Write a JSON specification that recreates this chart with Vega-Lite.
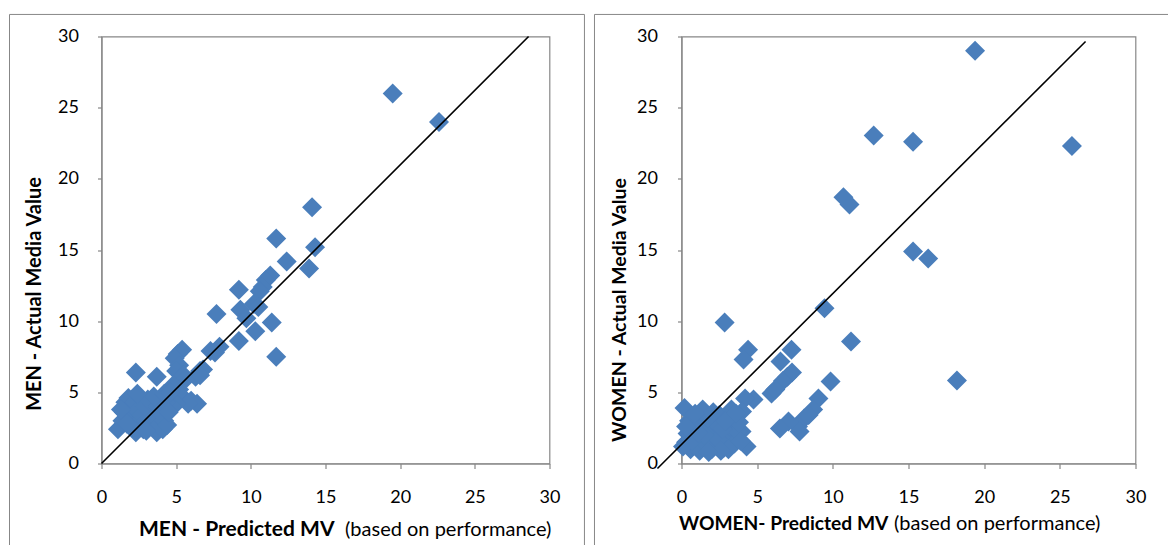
{
  "$schema": "https://vega.github.io/schema/vega-lite/v6.json",
  "padding": {"left": 7.5, "top": 12.5, "right": 0, "bottom": 0},
  "background": "white",
  "datasets": {
    "men": [
      {"pred": 19.5, "actual": 26.0}, {"pred": 22.6, "actual": 24.0}, {"pred": 14.1, "actual": 18.0},
      {"pred": 11.7, "actual": 15.8}, {"pred": 14.3, "actual": 15.2}, {"pred": 12.4, "actual": 14.2},
      {"pred": 13.9, "actual": 13.7}, {"pred": 11.3, "actual": 13.2}, {"pred": 11.0, "actual": 12.9},
      {"pred": 9.2, "actual": 12.2}, {"pred": 10.8, "actual": 12.4}, {"pred": 10.6, "actual": 12.1},
      {"pred": 10.2, "actual": 11.2}, {"pred": 10.5, "actual": 11.0}, {"pred": 9.3, "actual": 10.8},
      {"pred": 9.7, "actual": 10.2}, {"pred": 7.7, "actual": 10.5}, {"pred": 11.4, "actual": 9.9},
      {"pred": 10.3, "actual": 9.3}, {"pred": 9.2, "actual": 8.6}, {"pred": 11.7, "actual": 7.5},
      {"pred": 7.9, "actual": 8.2}, {"pred": 7.3, "actual": 7.9}, {"pred": 7.6, "actual": 7.8},
      {"pred": 5.1, "actual": 7.7}, {"pred": 5.4, "actual": 8.0}, {"pred": 4.9, "actual": 7.4},
      {"pred": 5.2, "actual": 6.9}, {"pred": 5.0, "actual": 6.5}, {"pred": 5.5, "actual": 6.2},
      {"pred": 6.6, "actual": 6.5}, {"pred": 6.8, "actual": 6.6}, {"pred": 6.3, "actual": 6.1},
      {"pred": 6.6, "actual": 6.2}, {"pred": 3.7, "actual": 6.1}, {"pred": 2.3, "actual": 6.4},
      {"pred": 5.6, "actual": 5.9}, {"pred": 4.8, "actual": 5.5}, {"pred": 5.2, "actual": 5.2},
      {"pred": 4.4, "actual": 4.8}, {"pred": 5.5, "actual": 4.6}, {"pred": 6.0, "actual": 4.4},
      {"pred": 6.4, "actual": 4.2}, {"pred": 5.8, "actual": 4.2}, {"pred": 5.0, "actual": 4.2},
      {"pred": 4.7, "actual": 4.0}, {"pred": 1.1, "actual": 2.4}, {"pred": 1.4, "actual": 3.0},
      {"pred": 1.5, "actual": 3.6}, {"pred": 1.6, "actual": 4.3}, {"pred": 1.8, "actual": 4.6},
      {"pred": 1.9, "actual": 3.9}, {"pred": 2.0, "actual": 3.2}, {"pred": 2.1, "actual": 2.6},
      {"pred": 2.2, "actual": 4.3}, {"pred": 2.4, "actual": 3.7}, {"pred": 2.5, "actual": 2.9},
      {"pred": 2.6, "actual": 4.6}, {"pred": 2.7, "actual": 3.4}, {"pred": 2.8, "actual": 2.4},
      {"pred": 2.9, "actual": 4.0}, {"pred": 3.0, "actual": 3.0}, {"pred": 3.1, "actual": 4.5},
      {"pred": 3.2, "actual": 2.6}, {"pred": 3.3, "actual": 3.6}, {"pred": 3.4, "actual": 4.2},
      {"pred": 3.5, "actual": 2.9}, {"pred": 3.6, "actual": 3.3}, {"pred": 3.7, "actual": 2.2},
      {"pred": 3.8, "actual": 4.0}, {"pred": 3.9, "actual": 2.7}, {"pred": 4.0, "actual": 3.5},
      {"pred": 4.1, "actual": 2.4}, {"pred": 4.2, "actual": 3.0}, {"pred": 4.3, "actual": 4.3},
      {"pred": 4.4, "actual": 2.7}, {"pred": 4.5, "actual": 3.6}, {"pred": 1.3, "actual": 3.8},
      {"pred": 2.3, "actual": 2.2}, {"pred": 3.0, "actual": 2.3}, {"pred": 1.7, "actual": 2.8},
      {"pred": 2.4, "actual": 4.9}, {"pred": 3.5, "actual": 4.7}, {"pred": 4.2, "actual": 4.9},
      {"pred": 4.6, "actual": 5.0}
    ],
    "women": [
      {"pred": 19.4, "actual": 29.0}, {"pred": 12.7, "actual": 23.05}, {"pred": 15.3, "actual": 22.6},
      {"pred": 25.8, "actual": 22.3}, {"pred": 10.7, "actual": 18.7}, {"pred": 11.1, "actual": 18.2},
      {"pred": 15.3, "actual": 14.9}, {"pred": 16.3, "actual": 14.4}, {"pred": 9.45, "actual": 10.9},
      {"pred": 2.85, "actual": 9.9}, {"pred": 11.2, "actual": 8.57}, {"pred": 7.27, "actual": 8.0},
      {"pred": 4.4, "actual": 8.0}, {"pred": 6.54, "actual": 7.17}, {"pred": 4.1, "actual": 7.3},
      {"pred": 7.3, "actual": 6.4}, {"pred": 7.0, "actual": 6.1}, {"pred": 6.7, "actual": 5.8},
      {"pred": 9.85, "actual": 5.76}, {"pred": 18.2, "actual": 5.83}, {"pred": 5.95, "actual": 4.92},
      {"pred": 6.2, "actual": 5.2}, {"pred": 4.76, "actual": 4.5}, {"pred": 9.05, "actual": 4.57},
      {"pred": 8.7, "actual": 3.8}, {"pred": 8.1, "actual": 3.16}, {"pred": 8.4, "actual": 3.4},
      {"pred": 7.7, "actual": 2.6}, {"pred": 7.07, "actual": 2.95}, {"pred": 6.5, "actual": 2.46},
      {"pred": 7.8, "actual": 2.25}, {"pred": 4.2, "actual": 4.57}, {"pred": 4.0, "actual": 3.65},
      {"pred": 3.97, "actual": 2.25}, {"pred": 4.3, "actual": 1.2}, {"pred": 0.2, "actual": 3.9},
      {"pred": 1.4, "actual": 3.8}, {"pred": 0.5, "actual": 3.0}, {"pred": 0.8, "actual": 2.5},
      {"pred": 1.0, "actual": 1.8}, {"pred": 0.3, "actual": 1.5}, {"pred": 0.6, "actual": 1.0},
      {"pred": 1.2, "actual": 0.9}, {"pred": 1.6, "actual": 1.4}, {"pred": 1.9, "actual": 2.2},
      {"pred": 2.2, "actual": 2.9}, {"pred": 2.5, "actual": 3.4}, {"pred": 2.8, "actual": 1.1},
      {"pred": 3.0, "actual": 1.9}, {"pred": 3.2, "actual": 2.6}, {"pred": 3.4, "actual": 3.2},
      {"pred": 3.5, "actual": 1.4}, {"pred": 3.7, "actual": 2.3}, {"pred": 2.0, "actual": 1.0},
      {"pred": 2.4, "actual": 1.7}, {"pred": 1.3, "actual": 2.8}, {"pred": 1.7, "actual": 3.2},
      {"pred": 0.9, "actual": 3.5}, {"pred": 0.4, "actual": 2.1}, {"pred": 2.7, "actual": 2.4},
      {"pred": 3.3, "actual": 3.8}, {"pred": 3.8, "actual": 2.9}, {"pred": 0.1, "actual": 1.2},
      {"pred": 1.5, "actual": 2.0}, {"pred": 2.1, "actual": 3.6}, {"pred": 3.1, "actual": 1.0},
      {"pred": 3.9, "actual": 1.6}, {"pred": 2.9, "actual": 3.0}, {"pred": 0.7, "actual": 1.6},
      {"pred": 1.1, "actual": 2.2}, {"pred": 2.6, "actual": 0.9}, {"pred": 1.8, "actual": 0.8},
      {"pred": 3.6, "actual": 3.5}, {"pred": 0.3, "actual": 2.6}
    ],
    "menLine": [{"pred": 0, "actual": 0}, {"pred": 28.6, "actual": 30}],
    "womenLine": [{"pred": -1.59, "actual": -0.35}, {"pred": 26.7, "actual": 29.65}]
  },
  "hconcat": [
    {
      "width": 448,
      "height": 427,
      "layer": [
        {
          "data": {"values": [{}]},
          "mark": {"type": "rect", "filled": false, "stroke": "#878787", "strokeWidth": 1, "clip": false},
          "encoding": {
            "x": {"datum": -6.16, "type": "quantitative", "axis": null},
            "x2": {"datum": 32.34},
            "y": {"datum": 31.55, "type": "quantitative"},
            "y2": {"datum": -7}
          }
        },
        {
          "data": {"name": "men"},
          "mark": {"type": "point", "shape": "diamond", "filled": true, "size": 400, "color": "#4a7ebb", "opacity": 1},
          "encoding": {
            "x": {"field": "pred", "type": "quantitative", "scale": {"domain": [0, 30], "nice": false},
              "axis": {"values": [0, 5, 10, 15, 20, 25, 30], "tickSize": 5, "labelPadding": 20, "labelFlush": false,
                "title": "MEN - Predicted MV", "titleFontSize": 21, "titleX": 37, "titleY": 66, "titleAlign": "left", "titleBaseline": "middle"}},
            "y": {"field": "actual", "type": "quantitative", "scale": {"domain": [0, 30], "nice": false},
              "axis": {"values": [0, 5, 10, 15, 20, 25, 30], "tickSize": 4, "labelPadding": 19, "labelFlush": false,
                "title": "MEN - Actual Media Value", "titleFontSize": 20, "titleX": -67, "titleY": 257, "titleAngle": 270, "titleAlign": "center", "titleBaseline": "middle"}}
          }
        },
        {
          "data": {"name": "menLine"},
          "mark": {"type": "line", "color": "black", "strokeWidth": 1.6, "clip": false},
          "encoding": {
            "x": {"field": "pred", "type": "quantitative",
              "axis": {"orient": "bottom", "labels": false, "ticks": false, "domain": false, "grid": false,
                "title": "(based on performance)", "titleFontSize": 20, "titleFontWeight": "normal", "titleX": 243, "titleY": 66, "titleAlign": "left", "titleBaseline": "middle"}},
            "y": {"field": "actual", "type": "quantitative"}
          }
        }
      ],
      "resolve": {"axis": {"x": "independent"}}
    },
    {
      "width": 454,
      "height": 427,
      "layer": [
        {
          "data": {"values": [{}]},
          "mark": {"type": "rect", "filled": false, "stroke": "#878787", "strokeWidth": 1, "clip": false},
          "encoding": {
            "x": {"datum": -5.75, "type": "quantitative", "axis": null},
            "x2": {"datum": 33.6},
            "y": {"datum": 31.55, "type": "quantitative"},
            "y2": {"datum": -7}
          }
        },
        {
          "data": {"name": "women"},
          "mark": {"type": "point", "shape": "diamond", "filled": true, "size": 400, "color": "#4a7ebb", "opacity": 1},
          "encoding": {
            "x": {"field": "pred", "type": "quantitative", "scale": {"domain": [0, 30], "nice": false},
              "axis": {"values": [0, 5, 10, 15, 20, 25, 30], "tickSize": 5, "labelPadding": 20, "labelFlush": false,
                "title": "WOMEN- Predicted MV", "titleFontSize": 19.2, "titleX": -3, "titleY": 60, "titleAlign": "left", "titleBaseline": "middle"}},
            "y": {"field": "actual", "type": "quantitative", "scale": {"domain": [0, 30], "nice": false},
              "axis": {"values": [0, 5, 10, 15, 20, 25, 30], "tickSize": 4, "labelPadding": 20, "labelFlush": false,
                "title": "WOMEN - Actual Media Value", "titleFontSize": 19.5, "titleX": -62, "titleY": 273, "titleAngle": 270, "titleAlign": "center", "titleBaseline": "middle"}}
          }
        },
        {
          "data": {"name": "womenLine"},
          "mark": {"type": "line", "color": "black", "strokeWidth": 1.6, "clip": false},
          "encoding": {
            "x": {"field": "pred", "type": "quantitative",
              "axis": {"orient": "bottom", "labels": false, "ticks": false, "domain": false, "grid": false,
                "title": "(based on performance)", "titleFontSize": 20, "titleFontWeight": "normal", "titleX": 212, "titleY": 60, "titleAlign": "left", "titleBaseline": "middle"}},
            "y": {"field": "actual", "type": "quantitative"}
          }
        }
      ],
      "resolve": {"axis": {"x": "independent"}}
    }
  ],
  "spacing": 132,
  "bounds": "flush",
  "config": {
    "view": {"stroke": "#878787", "strokeWidth": 1.2},
    "axis": {
      "gridColor": "#878787", "gridWidth": 1.2, "gridOpacity": 1,
      "domainColor": "#878787", "domainWidth": 1.2,
      "tickColor": "#878787", "tickWidth": 1.2,
      "labelFont": "Lato", "labelFontSize": 18, "labelColor": "black", "labelOverlap": false,
      "titleFont": "Lato", "titleFontSize": 19, "titleFontWeight": "bold", "titleColor": "black"
    }
  }
}
